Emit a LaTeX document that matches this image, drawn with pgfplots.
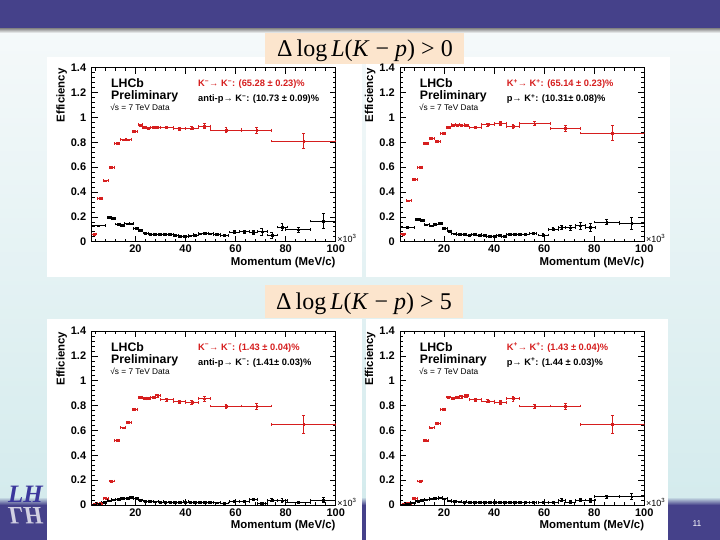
\documentclass[border=0pt]{standalone}
\usepackage{pgfplots}
\usepackage{pgfplotstable}
\pgfplotsset{compat=1.18}
\usepackage{fontspec}
\setmainfont{Liberation Sans}
\newfontfamily\titlefont{Liberation Serif}
\definecolor{rootred}{RGB}{214,30,30}
\definecolor{slidepurple}{RGB}{69,65,138}
\definecolor{peach}{RGB}{252,229,205}
\definecolor{bgtop}{RGB}{247,250,251}
\definecolor{bgbot}{RGB}{212,235,237}

% ---------------- data ----------------
\pgfplotstableread{
x ex y ey
3.5 1.0 0.062 0.005
5.8 1.0 0.35 0.006
8.1 1.0 0.49 0.007
10.4 1.0 0.60 0.007
12.7 1.0 0.79 0.007
15.0 1.0 0.82 0.007
17.3 1.0 0.82 0.007
19.6 1.0 0.885 0.008
21.8 0.8 0.94 0.008
23.5 0.8 0.92 0.008
25.2 0.8 0.915 0.008
27.0 0.9 0.92 0.008
28.9 0.9 0.92 0.008
32.5 2.5 0.92 0.010
37.5 2.5 0.91 0.010
42.5 2.5 0.915 0.012
47.5 2.5 0.93 0.020
56.2 6.2 0.90 0.018
68.4 6.0 0.896 0.025
87.2 12.8 0.81 0.062
}\redA
\pgfplotstableread{
x ex y ey
3.5 1.0 0.062 0.005
5.8 1.0 0.33 0.006
8.1 1.0 0.50 0.007
10.4 1.0 0.60 0.007
12.7 1.0 0.79 0.007
15.0 1.0 0.83 0.007
17.3 1.0 0.805 0.008
19.6 1.0 0.87 0.008
21.8 0.8 0.917 0.008
23.5 0.8 0.94 0.008
25.2 0.8 0.94 0.008
27.0 0.9 0.94 0.008
28.9 0.9 0.935 0.008
32.5 2.5 0.922 0.010
37.5 2.5 0.944 0.012
42.5 2.5 0.952 0.015
47.5 2.5 0.928 0.015
56.2 6.2 0.95 0.015
68.4 6.0 0.912 0.025
87.2 12.8 0.874 0.060
}\redB
\pgfplotstableread{
x ex y ey
3.5 1.0 0.005 0.002
5.8 1.0 0.013 0.003
8.1 1.0 0.054 0.004
10.4 1.0 0.193 0.006
12.7 1.0 0.518 0.007
15.0 1.0 0.622 0.007
17.3 1.0 0.662 0.008
19.6 1.0 0.77 0.008
21.8 0.8 0.866 0.008
23.5 0.8 0.861 0.008
25.2 0.8 0.855 0.008
27.0 0.9 0.866 0.009
28.9 0.9 0.88 0.010
32.5 2.5 0.847 0.010
37.5 2.5 0.834 0.012
42.5 2.5 0.826 0.014
47.5 2.5 0.855 0.020
56.2 6.2 0.796 0.018
68.4 6.0 0.796 0.025
87.2 12.8 0.649 0.070
}\redC
\pgfplotstableread{
x ex y ey
3.5 1.0 0.005 0.002
5.8 1.0 0.013 0.003
8.1 1.0 0.054 0.004
10.4 1.0 0.193 0.006
12.7 1.0 0.518 0.007
15.0 1.0 0.622 0.007
17.3 1.0 0.657 0.008
19.6 1.0 0.77 0.008
21.8 0.8 0.869 0.008
23.5 0.8 0.861 0.008
25.2 0.8 0.866 0.008
27.0 0.9 0.871 0.009
28.9 0.9 0.88 0.010
32.5 2.5 0.847 0.010
37.5 2.5 0.837 0.012
42.5 2.5 0.826 0.014
47.5 2.5 0.858 0.020
56.2 6.2 0.796 0.018
68.4 6.0 0.796 0.025
87.2 12.8 0.649 0.070
}\redD
\pgfplotstableread{
x ex y ey
5.25 2.75 0.128 0.006
9.5 0.9 0.195 0.008
11.2 0.8 0.185 0.008
13.0 0.9 0.142 0.007
14.8 0.9 0.130 0.007
16.6 0.9 0.145 0.007
18.4 0.9 0.145 0.007
20.2 0.9 0.107 0.006
22.0 0.9 0.090 0.006
24 1 0.070 0.005
26 1 0.062 0.005
28 1 0.060 0.005
30 1 0.062 0.005
32 1 0.060 0.005
34 1 0.058 0.005
36 1 0.050 0.005
38 1 0.045 0.005
40 1 0.042 0.005
42 1 0.048 0.005
44 1 0.055 0.006
46 1 0.065 0.006
48 1 0.070 0.006
50 1 0.065 0.006
52.5 1.5 0.060 0.007
55.5 1.5 0.050 0.008
59.5 2 0.078 0.010
63.5 2 0.080 0.012
67 1.5 0.078 0.015
70.5 2 0.080 0.030
74.5 2 0.054 0.025
78.5 2 0.118 0.030
85 5 0.097 0.020
95 5 0.166 0.060
}\blkA
\pgfplotstableread{
x ex y ey
5.25 2.75 0.115 0.006
9.5 0.9 0.180 0.008
11.2 0.8 0.170 0.008
13.0 0.9 0.137 0.007
14.8 0.9 0.128 0.007
16.6 0.9 0.142 0.007
18.4 0.9 0.147 0.007
20.2 0.9 0.107 0.006
22.0 0.9 0.086 0.006
24 1 0.065 0.005
26 1 0.060 0.005
28 1 0.058 0.005
30 1 0.055 0.005
32 1 0.060 0.005
34 1 0.055 0.005
36 1 0.050 0.005
38 1 0.045 0.005
40 1 0.043 0.005
42 1 0.050 0.005
44 1 0.045 0.006
46 1 0.058 0.006
48 1 0.060 0.006
50 1 0.058 0.006
52.5 1.5 0.062 0.007
55.5 1.5 0.067 0.008
59.5 2 0.054 0.010
63.5 2 0.100 0.012
67 1.5 0.115 0.015
70.5 2 0.113 0.018
74.5 2 0.128 0.025
78.5 2 0.115 0.030
85 5 0.158 0.020
95 5 0.147 0.050
}\blkB
\pgfplotstableread{
x ex y ey
3.5 1 0.003 0.002
5.5 1 0.010 0.002
7.5 1 0.020 0.003
9.5 0.9 0.035 0.004
11.2 0.8 0.042 0.004
13.0 0.9 0.045 0.004
14.8 0.9 0.052 0.004
16.6 0.9 0.055 0.004
18.4 0.9 0.060 0.004
20.2 0.9 0.052 0.004
22.0 0.9 0.040 0.004
24 1 0.032 0.003
26 1 0.028 0.003
28 1 0.026 0.003
30 1 0.025 0.003
32 1 0.024 0.003
34 1 0.024 0.003
36 1 0.023 0.003
38 1 0.024 0.003
40 1 0.025 0.003
42 1 0.024 0.003
44 1 0.022 0.003
46 1 0.021 0.003
48 1 0.022 0.003
50 1 0.020 0.003
52.5 1.5 0.018 0.004
55.5 1.5 0.016 0.005
59.5 2 0.030 0.007
63.5 2 0.027 0.008
67 1.5 0.046 0.010
70.5 2 0.013 0.008
74.5 2 0.038 0.012
78.5 2 0.035 0.015
85 5 0.022 0.010
95 5 0.040 0.020
}\blkC
\pgfplotstableread{
x ex y ey
3.5 1 0.003 0.002
5.5 1 0.010 0.002
7.5 1 0.018 0.003
9.5 0.9 0.032 0.004
11.2 0.8 0.040 0.004
13.0 0.9 0.042 0.004
14.8 0.9 0.050 0.004
16.6 0.9 0.052 0.004
18.4 0.9 0.058 0.004
20.2 0.9 0.050 0.004
22.0 0.9 0.035 0.004
24 1 0.030 0.003
26 1 0.026 0.003
28 1 0.025 0.003
30 1 0.024 0.003
32 1 0.022 0.003
34 1 0.023 0.003
36 1 0.022 0.003
38 1 0.022 0.003
40 1 0.024 0.003
42 1 0.022 0.003
44 1 0.020 0.003
46 1 0.020 0.003
48 1 0.021 0.003
50 1 0.020 0.003
52.5 1.5 0.020 0.004
55.5 1.5 0.020 0.005
59.5 2 0.022 0.006
63.5 2 0.022 0.007
67 1.5 0.040 0.010
70.5 2 0.025 0.010
74.5 2 0.040 0.012
78.5 2 0.040 0.015
85 5 0.067 0.012
95 5 0.067 0.025
}\blkD

\pgfplotsset{
  rootaxis/.style={
    scale only axis, width=244pt, height=174pt,
    xmin=2.5, xmax=100, ymin=0, ymax=1.4,
    xtick={20,40,60,80,100},
    ytick={0,0.2,0.4,0.6,0.8,1,1.2,1.4},
    minor xtick={4,8,...,96},
    minor ytick={0.04,0.08,...,1.36},
    tick align=inside,
    major tick length=6pt, minor tick length=3pt,
    axis line style={line width=0.8pt},
    every tick/.style={black, line width=0.6pt},
    /pgf/number format/assume math mode=true,
    ticklabel style={font=\bfseries\fontsize{11}{11}\selectfont},
    yticklabel style={xshift=-2pt},
    axis background/.style={fill=white},
  },
  pts/.style={only marks, mark=square*, mark size=0.9pt, color=#1,
    mark options={draw=#1, fill=#1},
    error bars/.cd, x dir=both, x explicit, y dir=both, y explicit,
    error bar style={line width=0.6pt, #1},
    error mark options={rotate=90, mark size=1.4pt, line width=0.6pt, #1}},
}

% #1 left, #2 top, #3 red table, #4 black table, #5 red text, #6 black text
\newcommand{\panel}[6]{%
  \begin{axis}[rootaxis, at={(#1pt,-#2pt)}, anchor=north west]
    \addplot[pts=rootred] table[x=x, y=y, x error=ex, y error=ey] {#3};
    \addplot[pts=black] table[x=x, y=y, x error=ex, y error=ey] {#4};
  \end{axis}
  \node[anchor=base west, inner sep=0pt, font=\bfseries\fontsize{12.3}{12.3}\selectfont]
    at ({(#1+19.3)*1pt},{-(#2+20.3)*1pt}) {LHCb};
  \node[anchor=base west, inner sep=0pt, font=\bfseries\fontsize{12.3}{12.3}\selectfont]
    at ({(#1+19.3)*1pt},{-(#2+32.3)*1pt}) {Preliminary};
  \node[anchor=base west, inner sep=0pt, font=\fontsize{8.3}{8.3}\selectfont]
    at ({(#1+18.5)*1pt},{-(#2+43.3)*1pt}) {√s = 7 TeV Data};
  \node[anchor=base west, inner sep=0pt, text=rootred, font=\bfseries\fontsize{9.3}{9.3}\selectfont]
    at ({(#1+106.3)*1pt},{-(#2+19.3)*1pt}) {#5};
  \node[anchor=base west, inner sep=0pt, font=\bfseries\fontsize{9.3}{9.3}\selectfont]
    at ({(#1+106.3)*1pt},{-(#2+34.3)*1pt}) {#6};
  \node[anchor=base east, inner sep=0pt, rotate=90, font=\bfseries\fontsize{11.4}{11.4}\selectfont]
    at ({(#1-27.2)*1pt},{-(#2+0.5)*1pt}) {Efficiency};
  \node[anchor=base east, inner sep=0pt, font=\bfseries\fontsize{11.4}{11.4}\selectfont]
    at ({(#1+244)*1pt},{-(#2+197.5)*1pt}) {Momentum (MeV/c)};
  \node[anchor=base west, inner sep=0pt, font=\fontsize{9}{9}\selectfont]
    at ({(#1+245.5)*1pt},{-(#2+175)*1pt}) {×10\textsuperscript{3}};
}

\begin{document}
\begin{tikzpicture}
\path[use as bounding box] (0,0) rectangle (720pt,-540pt);
% slide background
\fill[top color=bgtop, bottom color=bgbot] (0,0) rectangle (720pt,-503pt);
\fill[slidepurple] (0,0) rectangle (720pt,-29pt);
\fill[top color=black!40, bottom color=bgtop] (0,-29pt) rectangle (720pt,-33pt);
\fill[top color=bgbot, bottom color=slidepurple] (0,-497pt) rectangle (720pt,-505pt);
\fill[slidepurple] (0,-505pt) rectangle (720pt,-540pt);
% logo (only the part left of the panels is visible)
\node[anchor=base west, inner sep=0pt, text=slidepurple!85!blue,
  font=\titlefont\bfseries\itshape\fontsize{25}{25}\selectfont] at (8pt,-502pt) {LH};
\node[anchor=base west, inner sep=0pt, yscale=-1, text=white!75!slidepurple,
  font=\titlefont\bfseries\itshape\fontsize{25}{25}\selectfont] at (8pt,-507pt) {LH};
% page number
\node[text=white, font=\fontsize{8.5}{8.5}\selectfont] at (697pt,-524pt) {11};
% white panel boxes
\fill[white] (47pt,-57pt) rectangle (362pt,-277pt);
\fill[white] (366pt,-57pt) rectangle (670pt,-277pt);
\fill[white] (47pt,-319pt) rectangle (362pt,-540pt);
\fill[white] (366pt,-319pt) rectangle (668pt,-540pt);
% title boxes
\fill[peach] (265pt,-33pt) rectangle (464pt,-64pt);
\fill[peach] (265pt,-285pt) rectangle (463pt,-318pt);
\node[anchor=base, inner sep=0pt, font=\titlefont\fontsize{24}{24}\selectfont]
  at (365pt,-57pt) {Δ\,log\,\textit{L}(\textit{K} − \textit{p}) > 0};
\node[anchor=base, inner sep=0pt, font=\titlefont\fontsize{24}{24}\selectfont]
  at (364pt,-309pt) {Δ\,log\,\textit{L}(\textit{K} − \textit{p}) > 5};
% panels
\panel{91.7}{67.7}{\redA}{\blkA}{K\textsuperscript{−}→ K\textsuperscript{−}: (65.28 ± 0.23)\%}{anti-p→ K\textsuperscript{−}: (10.73 ± 0.09)\%}
\panel{400.3}{67.7}{\redB}{\blkB}{K\textsuperscript{+}→ K\textsuperscript{+}: (65.14 ± 0.23)\%}{p→ K\textsuperscript{+}: (10.31± 0.08)\%}
\panel{91.7}{331}{\redC}{\blkC}{K\textsuperscript{−}→ K\textsuperscript{−}: (1.43 ± 0.04)\%}{anti-p→ K\textsuperscript{−}: (1.41± 0.03)\%}
\panel{400.3}{331}{\redD}{\blkD}{K\textsuperscript{+}→ K\textsuperscript{+}: (1.43 ± 0.04)\%}{p→ K\textsuperscript{+}: (1.44 ± 0.03)\%}
\end{tikzpicture}
\end{document}
